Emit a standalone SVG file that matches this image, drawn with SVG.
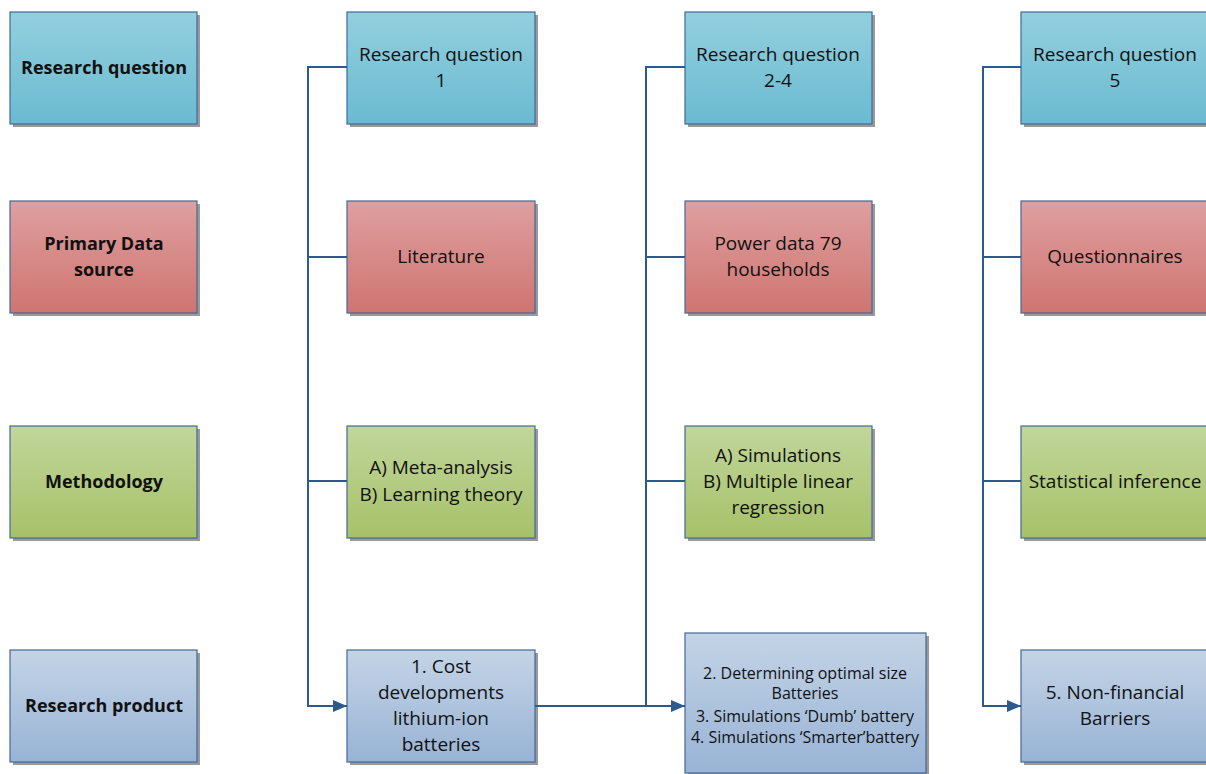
<svg xmlns="http://www.w3.org/2000/svg" width="1206" height="774" viewBox="0 0 1206 774">
<defs>
<linearGradient id="gB" x1="0" y1="0" x2="0" y2="1"><stop offset="0" stop-color="#93cfdf"/><stop offset="1" stop-color="#6abbd0"/></linearGradient>
<linearGradient id="gR" x1="0" y1="0" x2="0" y2="1"><stop offset="0" stop-color="#dea09f"/><stop offset="1" stop-color="#cf7471"/></linearGradient>
<linearGradient id="gG" x1="0" y1="0" x2="0" y2="1"><stop offset="0" stop-color="#c1d69b"/><stop offset="1" stop-color="#a7c169"/></linearGradient>
<linearGradient id="gP" x1="0" y1="0" x2="0" y2="1"><stop offset="0" stop-color="#c4d4e6"/><stop offset="1" stop-color="#98b3d5"/></linearGradient>
<marker id="ah" viewBox="0 0 14 12" refX="14" refY="6" markerWidth="14" markerHeight="12" markerUnits="userSpaceOnUse" orient="auto"><path d="M0,0 L14,6 L0,12 Z" fill="#2c5a8f"/></marker>
</defs>
<style>
.sh{fill:#9a9a9a}
.bx{stroke:#41699a;stroke-width:1.2}
.t{font-family:"Open Sans","Liberation Sans",sans-serif;font-size:19px;fill:#111;text-anchor:middle}
.b{font-weight:bold;font-size:18px}
.s{font-size:16px}
.c{fill:none;stroke:#2c5a8f;stroke-width:2}
</style>
<rect width="1206" height="774" fill="#fff"/>
<g id="n_rq"><rect class="sh" x="13" y="15" width="187" height="112"/><rect class="bx" x="10" y="12" width="187" height="112" fill="url(#gB)"/><text class="t b" x="104" y="74">Research question</text></g>
<g id="n_pds"><rect class="sh" x="13" y="204" width="187" height="112"/><rect class="bx" x="10" y="201" width="187" height="112" fill="url(#gR)"/><text class="t b" x="104" y="250">Primary Data</text><text class="t b" x="104" y="276">source</text></g>
<g id="n_meth"><rect class="sh" x="13" y="429" width="187" height="112"/><rect class="bx" x="10" y="426" width="187" height="112" fill="url(#gG)"/><text class="t b" x="104" y="488">Methodology</text></g>
<g id="n_prod"><rect class="sh" x="13" y="653" width="187" height="112"/><rect class="bx" x="10" y="650" width="187" height="112" fill="url(#gP)"/><text class="t b" x="104" y="712">Research product</text></g>

<g id="n_rq1"><rect class="sh" x="350" y="15" width="188" height="112"/><rect class="bx" x="347" y="12" width="188" height="112" fill="url(#gB)"/><text class="t" x="441" y="61">Research question</text><text class="t" x="441" y="87">1</text></g>
<g id="n_lit"><rect class="sh" x="350" y="204" width="188" height="112"/><rect class="bx" x="347" y="201" width="188" height="112" fill="url(#gR)"/><text class="t" x="441" y="263">Literature</text></g>
<g id="n_meta"><rect class="sh" x="350" y="429" width="188" height="112"/><rect class="bx" x="347" y="426" width="188" height="112" fill="url(#gG)"/><text class="t" x="441" y="474">A) Meta-analysis</text><text class="t" x="441" y="501">B) Learning theory</text></g>
<g id="n_cost"><rect class="sh" x="350" y="653" width="188" height="112"/><rect class="bx" x="347" y="650" width="188" height="112" fill="url(#gP)"/><text class="t" x="441" y="673">1. Cost</text><text class="t" x="441" y="699">developments</text><text class="t" x="441" y="725">lithium-ion</text><text class="t" x="441" y="751">batteries</text></g>

<g id="n_rq24"><rect class="sh" x="688" y="15" width="187" height="112"/><rect class="bx" x="685" y="12" width="187" height="112" fill="url(#gB)"/><text class="t" x="778" y="61">Research question</text><text class="t" x="778" y="87">2-4</text></g>
<g id="n_pow"><rect class="sh" x="688" y="204" width="187" height="112"/><rect class="bx" x="685" y="201" width="187" height="112" fill="url(#gR)"/><text class="t" x="778" y="250">Power data 79</text><text class="t" x="778" y="276">households</text></g>
<g id="n_sim"><rect class="sh" x="688" y="429" width="187" height="112"/><rect class="bx" x="685" y="426" width="187" height="112" fill="url(#gG)"/><text class="t" x="778" y="462">A) Simulations</text><text class="t" x="778" y="488">B) Multiple linear</text><text class="t" x="778" y="514">regression</text></g>
<g id="n_sims"><rect class="sh" x="688" y="636" width="241" height="140"/><rect class="bx" x="685" y="633" width="241" height="140" fill="url(#gP)"/><text class="t s" x="805" y="679">2. Determining optimal size</text><text class="t s" x="805" y="699">Batteries</text><text class="t s" x="805" y="722">3. Simulations ‘Dumb’ battery</text><text class="t s" x="805" y="743">4. Simulations ‘Smarter’battery</text></g>

<g id="n_rq5"><rect class="sh" x="1024" y="15" width="188" height="112"/><rect class="bx" x="1021" y="12" width="188" height="112" fill="url(#gB)"/><text class="t" x="1115" y="61">Research question</text><text class="t" x="1115" y="87">5</text></g>
<g id="n_q"><rect class="sh" x="1024" y="204" width="188" height="112"/><rect class="bx" x="1021" y="201" width="188" height="112" fill="url(#gR)"/><text class="t" x="1115" y="263">Questionnaires</text></g>
<g id="n_stat"><rect class="sh" x="1024" y="429" width="188" height="112"/><rect class="bx" x="1021" y="426" width="188" height="112" fill="url(#gG)"/><text class="t" x="1115" y="488">Statistical inference</text></g>
<g id="n_nf"><rect class="sh" x="1024" y="653" width="188" height="112"/><rect class="bx" x="1021" y="650" width="188" height="112" fill="url(#gP)"/><text class="t" x="1115" y="699">5. Non-financial</text><text class="t" x="1115" y="725">Barriers</text></g>

<g id="connectors">
<path class="c" d="M347,67 H308 V706 H347" marker-end="url(#ah)"/>
<path class="c" d="M308,257 H347 M308,481 H347"/>
<path class="c" d="M535,706 H685" marker-end="url(#ah)"/>
<path class="c" d="M685,67 H646 V706"/>
<path class="c" d="M646,257 H685 M646,481 H685"/>
<path class="c" d="M1021,67 H983 V706 H1021" marker-end="url(#ah)"/>
<path class="c" d="M983,257 H1021 M983,481 H1021"/>
</g>
</svg>
